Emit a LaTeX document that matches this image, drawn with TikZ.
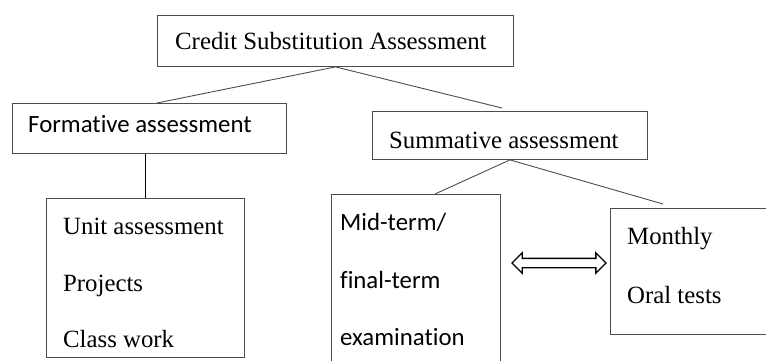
\documentclass[tikz,border=0pt]{standalone}
\usepackage{fontspec}
\setmainfont{Liberation Serif}
\newfontfamily\calfont[Ligatures=NoCommon]{Carlito}
\usetikzlibrary{shapes.arrows}
\begin{document}
\begin{tikzpicture}[x=1pt,y=-1pt,
  box/.style={draw=black!70, line width=0.9pt, inner sep=0, anchor=north west},
  txt/.style={inner sep=0, anchor=base west, font=\fontsize{24.8}{30}\selectfont},
  stxt/.style={inner sep=0, anchor=base west, font=\calfont\fontsize{24.8}{30}\selectfont},
  link/.style={draw=black!70, line width=0.9pt}]
\useasboundingbox (0,0) rectangle (766,361);
\clip (0,0) rectangle (766,361);
% boxes
\node[box, minimum width=356, minimum height=51] (top) at (157,15) {};
\node[box, minimum width=274, minimum height=50] (form) at (12,103) {};
\node[box, minimum width=275, minimum height=48] (summ) at (372,111) {};
\node[box, minimum width=198, minimum height=159] (unit) at (46,198) {};
\node[box, minimum width=169, minimum height=200] (mid) at (331,194) {};
\node[box, minimum width=200, minimum height=126] (month) at (610,208) {};
% texts
\node[txt] (t1) at (175,50) {Credit Substitution Assessment};
\node[stxt] (t2) at (28,132) {Formative assessment};
\node[txt] (t3) at (389,148) {Summative assessment};
\node[txt] (u1) at (63,234) {Unit assessment};
\node[txt] (u2) at (63,291) {Projects};
\node[txt] (u3) at (63,347) {Class work};
\node[stxt] (m1) at (340,230) {Mid-term/};
\node[stxt] (m2) at (340,288) {final-term};
\node[stxt] (m3) at (340,345) {examination};
\node[txt] (o1) at (627,244) {Monthly};
\node[txt] (o2) at (627,303) {Oral tests};
% connectors
\coordinate (formtop) at (157,103);
\coordinate (summtop) at (502,108);
\coordinate (midtop) at (435,194);
\coordinate (monthtop) at (663,204);
\draw[link] (top.south) -- (formtop);
\draw[link] (top.south) -- (summtop);
\draw[link] (summ.south) -- (midtop);
\draw[link] (summ.south) -- (monthtop);
\draw[line width=1.6pt] (unit.north |- form.south) -- (unit.north);
% double arrow
\node[double arrow, draw=black, line width=1.3pt, fill=white, minimum height=94,
      inner xsep=0, inner ysep=4, double arrow head extend=5.5,
      double arrow tip angle=90] (arr) at (559,263) {};
\end{tikzpicture}
\end{document}
